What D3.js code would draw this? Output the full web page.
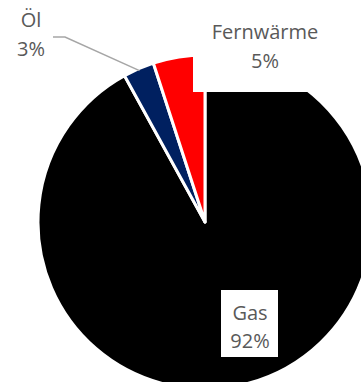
<!DOCTYPE html>
<html>
<head>
<meta charset="utf-8">
<script src="https://cdn.jsdelivr.net/npm/d3@7"></script>
<style>
html,body{margin:0;padding:0;background:#fff;overflow:hidden;}
svg{display:block;}
</style>
</head>
<body>
<script>
const categories = ["Gas", "Öl", "Fernwärme"];
const values = [92, 3, 5];
const labels = ["92%", "3%", "5%"];
const colors = ["#000000", "#002060", "#FF0000"];

const W = 361, H = 382;
const cx = 205, cy = 222, R = 167;

const svg = d3.select("body").append("svg").attr("width", W).attr("height", H);

const data = categories.map((c, i) => ({cat: c, value: values[i], label: labels[i], color: colors[i]}));
const pie = d3.pie().sort(null).value(d => d.value);
const arc = d3.arc().innerRadius(0).outerRadius(R);

const g = svg.append("g").attr("transform", `translate(${cx},${cy})`);
g.selectAll("path").data(pie(data)).join("path")
  .attr("d", arc)
  .attr("fill", d => d.data.color)
  .attr("stroke", "#fff")
  .attr("stroke-width", 3)
  .attr("stroke-linejoin", "round");

// label layout (boxes + text positions)
const labelLayout = {
  "Gas":       {box: [221, 290, 57, 67], x: 250, y1: 320, y2: 348},
  "Öl":        {box: null, x: 31, y1: 27, y2: 56},
  "Fernwärme": {box: [193, 0, 144, 92], x: 265, y1: 39, y2: 68}
};

// leader line for Öl
const oel = pie(data)[1];
const mid = (oel.startAngle + oel.endAngle) / 2;
const px = cx + Math.sin(mid) * (R - 2), py = cy - Math.cos(mid) * (R - 2);
svg.append("polyline")
  .attr("points", `53,37 65,37 ${px},${py}`)
  .attr("fill", "none").attr("stroke", "#a6a6a6").attr("stroke-width", 1.5);

data.forEach(d => {
  const L = labelLayout[d.cat];
  if (L.box) {
    svg.append("rect").attr("x", L.box[0]).attr("y", L.box[1])
      .attr("width", L.box[2]).attr("height", L.box[3]).attr("fill", "#fff");
  }
  const t = svg.append("text").attr("text-anchor", "middle")
    .attr("font-family", "'Open Sans', sans-serif").attr("font-size", 20)
    .attr("fill", "#595959");
  t.append("tspan").attr("x", L.x).attr("y", L.y1).text(d.cat);
  t.append("tspan").attr("x", L.x).attr("y", L.y2).text(d.label);
});
</script>
</body>
</html>
